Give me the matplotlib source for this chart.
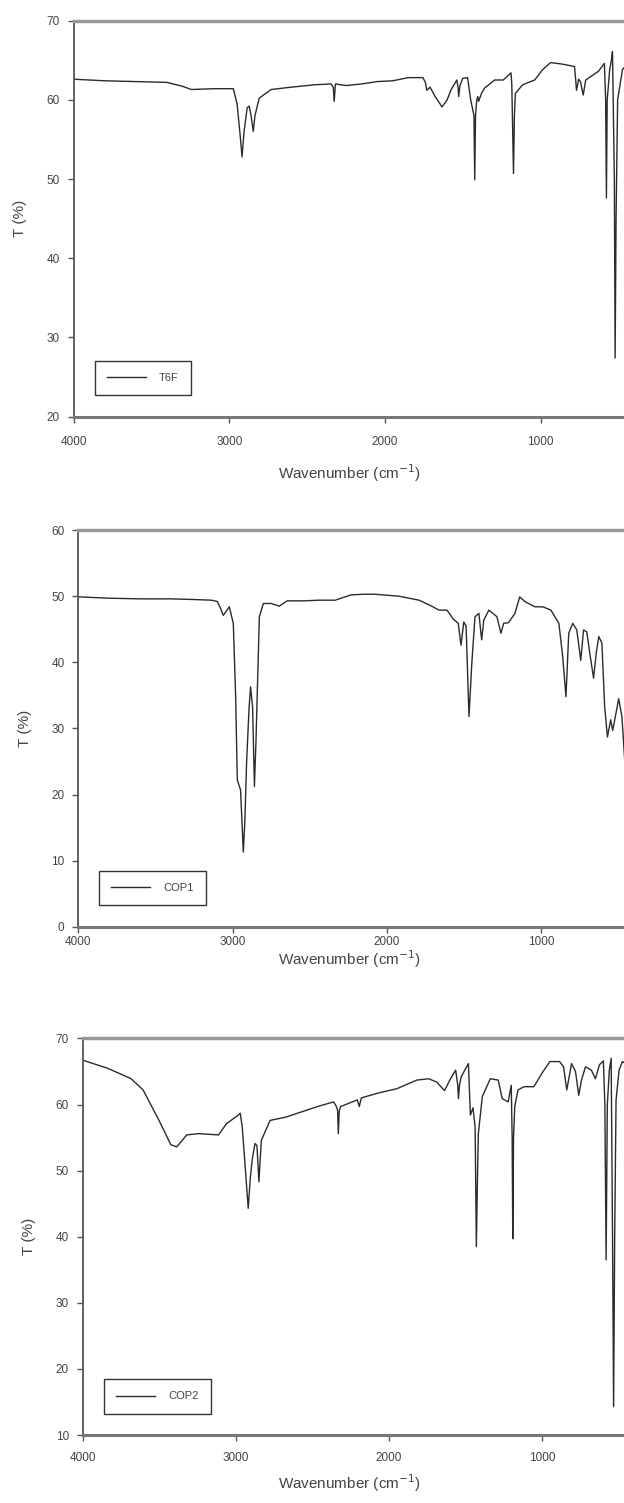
import matplotlib.pyplot as plt
import numpy as np

plt.rcParams['font.family'] = ['Liberation Sans', 'DejaVu Sans']

t6f_wn = [4000, 3800, 3600, 3400, 3300, 3244, 3100, 2974, 2950, 2930, 2918, 2905,
          2885, 2872, 2860, 2846, 2835, 2808, 2731, 2600, 2450, 2346, 2332, 2326,
          2318, 2250, 2150, 2050, 1950, 1850, 1756, 1740, 1731, 1710, 1680, 1633,
          1600, 1577, 1538, 1530, 1526, 1518, 1500, 1469, 1449, 1428, 1423, 1418,
          1410, 1403, 1398, 1380, 1359, 1295, 1240, 1190, 1185, 1174, 1168, 1162,
          1115, 1038, 987, 936, 859, 782, 769, 756, 744, 726, 710, 628, 590,
          582, 577, 572, 556, 545, 538, 526, 521, 515, 505, 474, 440]
t6f_t = [62.6, 62.4, 62.3, 62.2, 61.7, 61.3, 61.4, 61.4, 59.5, 55.5, 52.8, 56.0,
         59.0, 59.2, 58.0, 56.0, 58.0, 60.2, 61.3, 61.6, 61.9, 62.0, 61.6, 59.8,
         62.0, 61.8, 62.0, 62.3, 62.4, 62.8, 62.8, 62.2, 61.2, 61.6, 60.5, 59.1,
         60.0, 61.2, 62.5, 61.5, 60.4, 61.8, 62.7, 62.8, 60.0, 58.0, 49.9, 58.0,
         60.0, 60.4, 59.8, 60.8, 61.5, 62.5, 62.5, 63.4, 62.0, 50.7, 58.0, 60.8,
         61.9, 62.5, 63.8, 64.7, 64.5, 64.2, 61.2, 62.6, 62.3, 60.6, 62.5, 63.6, 64.6,
         60.0, 47.6, 60.0, 63.8, 65.0, 66.1, 50.0, 27.4, 45.0, 60.0, 63.8, 64.6]

cop1_wn = [4000, 3800, 3600, 3400, 3250, 3137, 3098, 3075, 3060, 3045, 3021, 2995,
           2980, 2969, 2948, 2930, 2920, 2909, 2893, 2883, 2870, 2858, 2848, 2839,
           2826, 2800, 2749, 2697, 2645, 2540, 2438, 2334, 2231, 2150, 2075, 1920,
           1790, 1700, 1661, 1609, 1570, 1536, 1518, 1500, 1485, 1466, 1448, 1427,
           1402, 1384, 1370, 1337, 1285, 1259, 1241, 1210, 1168, 1137, 1104, 1039,
           987, 935, 883, 858, 837, 819, 793, 767, 741, 723, 702, 680, 658, 640,
           624, 604, 586, 568, 547, 534, 515, 495, 474, 456, 440]
cop1_t = [49.9, 49.7, 49.6, 49.6, 49.5, 49.4, 49.2, 48.0, 47.1, 47.6, 48.4, 45.9,
          35.0, 22.2, 20.7, 11.3, 16.0, 24.7, 33.0, 36.3, 33.3, 21.2, 28.0, 35.8,
          46.9, 48.9, 48.9, 48.5, 49.3, 49.3, 49.4, 49.4, 50.2, 50.3, 50.3, 50.0,
          49.4, 48.4, 47.9, 47.9, 46.6, 45.9, 42.6, 46.1, 45.5, 31.8, 39.8, 46.9,
          47.4, 43.4, 46.4, 47.9, 46.9, 44.4, 45.9, 46.0, 47.4, 49.9, 49.2, 48.4,
          48.4, 47.9, 45.9, 40.8, 34.8, 44.4, 45.9, 44.9, 40.3, 44.9, 44.6, 41.0, 37.6, 41.5,
          43.9, 42.9, 33.3, 28.7, 31.3, 29.7, 32.0, 34.5, 31.8, 25.2, 24.5]

cop2_wn = [4000, 3839, 3684, 3606, 3502, 3424, 3386, 3321, 3243, 3113, 3061, 2984,
           2971, 2958, 2940, 2919, 2905, 2893, 2875, 2862, 2849, 2840, 2833, 2776,
           2673, 2569, 2465, 2361, 2345, 2335, 2330, 2324, 2315, 2206, 2193, 2180,
           2076, 1947, 1817, 1739, 1687, 1636, 1597, 1563, 1550, 1545, 1538, 1527,
           1480, 1467, 1450, 1436, 1428, 1420, 1415, 1389, 1337, 1285, 1259, 1220,
           1200, 1194, 1190, 1185, 1177, 1156, 1117, 1052, 1000, 948, 884, 858, 837,
           806, 780, 759, 741, 715, 676, 650, 624, 598, 588, 580, 572, 559, 547,
           538, 531, 524, 515, 495, 474, 440]
cop2_t = [66.7, 65.5, 63.9, 62.2, 57.6, 53.9, 53.6, 55.4, 55.6, 55.4, 57.1, 58.4,
          58.7, 56.6, 51.0, 44.3, 49.0, 51.6, 54.1, 53.8, 48.3, 52.0, 54.6, 57.6,
          58.1, 58.9, 59.7, 60.4, 59.8, 59.2, 55.6, 59.0, 59.7, 60.7, 59.7, 61.0,
          61.7, 62.4, 63.7, 63.9, 63.4, 62.1, 63.9, 65.2, 63.0, 60.9, 63.0, 64.2,
          66.2, 58.4, 59.5, 56.6, 38.5, 50.0, 55.6, 61.2, 63.9, 63.7, 60.9, 60.4,
          62.9, 55.0, 39.7, 55.0, 59.7, 62.2, 62.7, 62.7, 64.7, 66.5, 66.5, 65.7, 62.2,
          66.2, 65.0, 61.4, 63.7, 65.7, 65.2, 63.9, 66.0, 66.6, 60.0, 36.5, 60.0, 65.2, 67.0,
          40.0, 14.3, 40.0, 60.7, 65.2, 66.5, 66.0]

labels = ['T6F', 'COP1', 'COP2']
ylims = [(20, 70), (0, 60), (10, 70)]
yticks = [np.arange(20, 71, 10), np.arange(0, 61, 10), np.arange(10, 71, 10)]
xticks = [4000, 3000, 2000, 1000]

# axes boxes in figure fraction (left, bottom, width, height)
boxes = [(0.118, 0.7228, 0.885, 0.2635),
         (0.1256, 0.3834, 0.878, 0.2639),
         (0.1327, 0.0452, 0.871, 0.2639)]
xlims = [(4000, 452), (4000, 446), (4000, 448)]
label_y = [473, 959, 1483]
xpads = [10, 3.0, 8.5]

fig = plt.figure(figsize=(6.24, 15.03), dpi=100)
series = [(t6f_wn, t6f_t), (cop1_wn, cop1_t), (cop2_wn, cop2_t)]

for i, (wn, t) in enumerate(series):
    ax = fig.add_axes(boxes[i])
    ax.plot(wn, t, color='#2b2b2b', lw=1.0, label=labels[i])
    ax.set_xlim(*xlims[i])
    ax.set_ylim(*ylims[i])
    ax.set_xticks(xticks)
    ax.set_yticks(yticks[i])
    ax.tick_params(direction='out', length=4, width=1, color='#555555',
                   labelsize=8.5, labelcolor='#444444')
    ax.tick_params(axis='y', pad=6)
    ax.tick_params(axis='x', pad=xpads[i])
    ax.spines['top'].set_color('#999999')
    ax.spines['top'].set_linewidth(2.5)
    ax.spines['bottom'].set_color('#777777')
    ax.spines['bottom'].set_linewidth(2.2)
    ax.spines['left'].set_color('#555555')
    ax.spines['left'].set_linewidth(1.3)
    ax.spines['right'].set_color('#dddddd')
    ax.spines['right'].set_linewidth(1.0)
    ax.set_ylabel('T (%)', fontsize=11, color='#444444', labelpad=14)
    fig.text(0.5 + 0.06, 1 - label_y[i] / 1503, 'Wavenumber (cm$^{-1}$)',
             ha='center', va='center', fontsize=11, color='#444444')
    leg = ax.legend(loc='lower left', bbox_to_anchor=(0.028, 0.04), fancybox=False,
                    framealpha=1, edgecolor='#333333', fontsize=8,
                    handlelength=3.5, handletextpad=1.2, borderpad=1.1,
                    labelcolor='#444444')
    leg.get_frame().set_linewidth(1.0)

fig.savefig('out.png', dpi=100)
